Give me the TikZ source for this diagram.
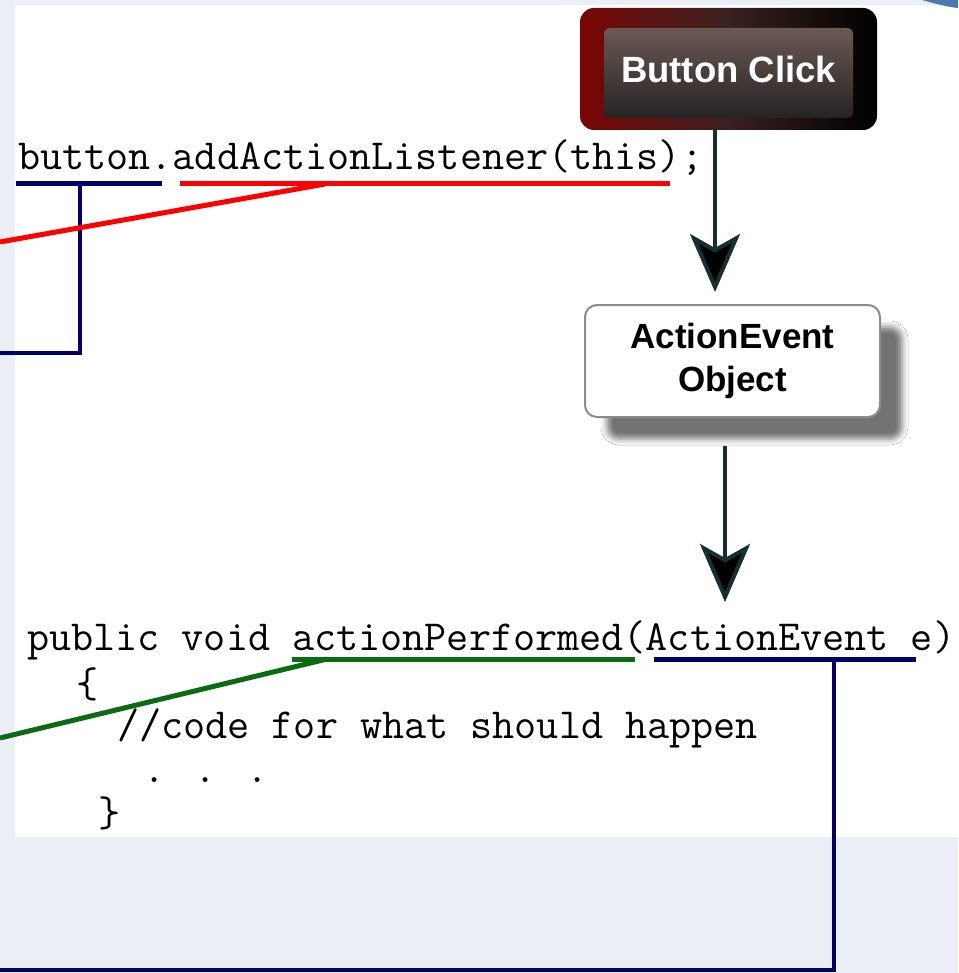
\documentclass[tikz,border=0pt]{standalone}
\usepackage{fontspec}
\setmainfont{Liberation Sans}
\usetikzlibrary{arrows.meta,shadows.blur}
\definecolor{bgc}{HTML}{EBEEF5}
\definecolor{navyl}{HTML}{00006B}
\definecolor{greenl}{HTML}{0B6B12}
\definecolor{redl}{HTML}{FF0000}
\definecolor{btnred}{HTML}{7A0505}
\definecolor{btnmid}{HTML}{3A2020}
\definecolor{btntop}{HTML}{7A6460}
\definecolor{btnbot}{HTML}{1C1C1C}
\definecolor{arrowc}{HTML}{163030}
\definecolor{decoblue}{HTML}{4A78B0}
\begin{document}
\begin{tikzpicture}[x=1pt,y=-1pt,
  code/.style={inner sep=0pt, anchor=base west, font=\ttfamily\fontsize{42.9}{46}\selectfont},
  uline/.style={line width=5pt},
  conn/.style={line width=4pt},
  btnbox/.style={rounded corners=14pt, minimum width=297pt, minimum height=122pt, inner sep=0pt,
    left color=btnred, right color=black, middle color=btnmid, text=white,
    font=\bfseries\fontsize{36.5}{40}\selectfont,
    path picture={\shade[top color=btntop, bottom color=btnbot, rounded corners=6pt]
      ([xshift=24pt,yshift=-20pt]path picture bounding box.north west) rectangle
      ([xshift=-24pt,yshift=12pt]path picture bounding box.south east);}},
  aebox/.style={rounded corners=12pt, minimum width=295pt, minimum height=112pt, inner sep=0pt,
    draw=black!45, line width=2pt, fill=white, align=center,
    font=\bfseries\fontsize{35}{43}\selectfont,
    blur shadow={shadow xshift=22pt, shadow yshift=-22pt, shadow blur radius=6pt, shadow opacity=55}},
  arr/.style={line width=4pt, draw=arrowc, -{Stealth[length=58pt, width=50pt, inset=14pt, fill=black]}}
]
\fill[bgc] (0,0) rectangle (958,973);
\useasboundingbox (0,0) rectangle (958,973);
\fill[white] (15,5) rectangle (958,837);
\fill[decoblue] (922,0) .. controls (936,4) and (948,7) .. (958,8) -- (958,0) -- cycle;

% code text
\node[code] (l1) at (18,170) {button.addActionListener(this);};
\node[code] (l2) at (27,650) {public void actionPerformed(ActionEvent e)};
\node[code] (l3) at (76,697) {\{};
\node[code] (l4) at (117,738) {//code for what should happen};
\node[code] (l5) at (143,782) {. . .};
\node[code] (l6) at (98,826) {\}};

% boxes
\node[btnbox] (bc) at (728.5,69) {Button Click};
\node[aebox] (ae) at (732.5,361) {ActionEvent\\Object};

% arrows
\coordinate (a1x) at (715,0);
\coordinate (a2e) at (725,602);
\draw[arr, shorten >=12pt] (bc.south -| a1x) -- (ae.north -| a1x);
\draw[arr, shorten <=28pt] (ae.south -| a2e) -- (a2e);

% top line underlines and connectors
\coordinate (n1) at (16,184);
\coordinate (n2) at (162,184);
\coordinate (nj) at (80,184);
\coordinate (nc) at (80,353);
\coordinate (ne) at (0,353);
\draw[uline, navyl] (n1) -- (n2);
\draw[conn, navyl] (nj) -- (nc) -- (ne);

\coordinate (r1) at (180,184);
\coordinate (r2) at (670,184);
\coordinate (rj) at (325,184);
\coordinate (re) at (0,242);
\draw[uline, redl] (r1) -- (r2);
\draw[uline, redl] (rj) -- (re);

% bottom line underlines and connectors
\coordinate (g1) at (292,659);
\coordinate (g2) at (635,659);
\coordinate (gj) at (327,659);
\coordinate (ge) at (0,738);
\draw[uline, greenl] (g1) -- (g2);
\draw[uline, greenl] (gj) -- (ge);

\coordinate (m1) at (654,659);
\coordinate (m2) at (916,659);
\coordinate (mj) at (834,659);
\coordinate (mc) at (834,970);
\coordinate (me) at (0,970);
\draw[uline, navyl] (m1) -- (m2);
\draw[conn, navyl] (mj) -- (mc) -- (me);
\end{tikzpicture}
\end{document}
